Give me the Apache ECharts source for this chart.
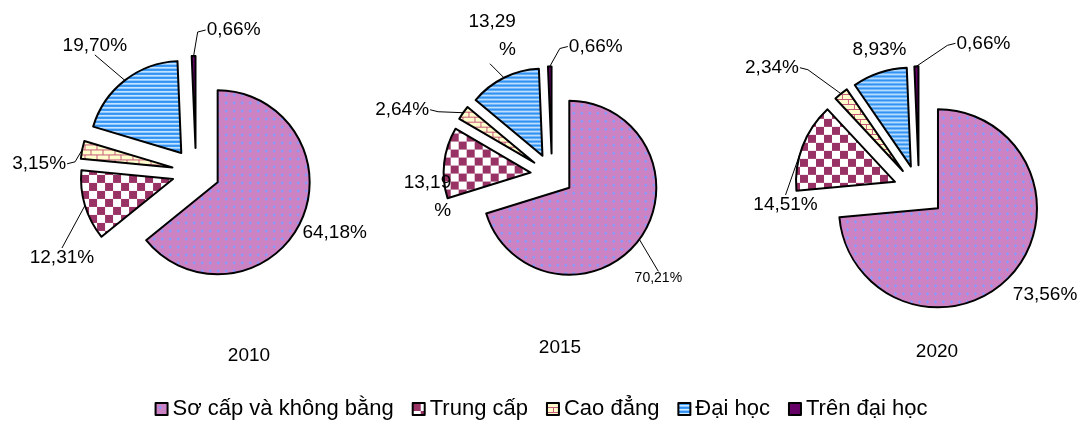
<!DOCTYPE html>
<html>
<head>
<meta charset="utf-8">
<script src="https://cdn.jsdelivr.net/npm/echarts@6/dist/echarts.min.js"></script>
<style>
  html, body { margin: 0; padding: 0; background: #fff; }
  #chart { width: 1082px; height: 431px; }
</style>
</head>
<body>
<div id="chart"></div>
<script>
// categories + values (%)
const categories = ["Sơ cấp và không bằng", "Trung cấp", "Cao đẳng", "Đại học", "Trên đại học"];
const years = ["2010", "2015", "2020"];
const v2010 = [64.18, 12.31, 3.15, 19.70, 0.66];
const v2015 = [70.21, 13.19, 2.64, 13.29, 0.66];
const v2020 = [73.56, 14.51, 2.34, 8.93, 0.66];

// ---- pattern fills ----
function makeTile(w, h, draw) {
  let c = document.createElement("canvas");
  c.width = w;
  c.height = h;
  draw(c.getContext("2d"));
  return { image: c, repeat: "repeat" };
}

const patSoCap = makeTile(8, 8, (g) => {
  for (let y = 0; y < 8; ++y) {
    for (let x = 0; x < 8; ++x) {
      g.fillStyle = (x + y) % 2 ? "#f07cb0" : "#a98ad8";
      g.fillRect(x, y, 1, 1);
    }
  }
  g.fillStyle = "#8c9cff";
  g.fillRect(3, 4, 3, 1);
  g.fillRect(4, 3, 1, 3);
});

const patTrungCap = makeTile(16, 16, (g) => {
  g.fillStyle = "#ffffff";
  g.fillRect(0, 0, 16, 16);
  g.fillStyle = "#993366";
  g.fillRect(0, 0, 8, 8);
  g.fillRect(8, 8, 8, 8);
});

const patCaoDang = makeTile(12, 10, (g) => {
  g.fillStyle = "#ffffcc";
  g.fillRect(0, 0, 12, 10);
  g.fillStyle = "#c85a7c";
  g.fillRect(0, 4, 12, 1);
  g.fillRect(0, 9, 12, 1);
  g.fillRect(0, 0, 1, 4);
  g.fillRect(6, 5, 1, 4);
});

const patDaiHoc = makeTile(4, 4, (g) => {
  const rows = ["#2f8ff0", "#3d9cf5", "#cfe7ff", "#8cc6ff"];
  rows.forEach((c, i) => {
    g.fillStyle = c;
    g.fillRect(0, i, 4, 1);
  });
});

const fills = [patSoCap, patTrungCap, patCaoDang, patDaiHoc, "#660066"];

const fmt = (v) => v.toFixed(2).replace(".", ",") + "%";

// where each label sits, relative to the slice's outer edge point: [dx, dy, draw leader line?]
const lab2010 = [[34, 11, 0], [-23, 52, 1], [-43, 14, 1], [-30, -35, 1], [40, -26, 1]];
const lab2015 = [[19, 39, 1], [-19, 34, 0], [-61, -3, 1], [-14, -42, 1], [46, -20, 1]];
const lab2020 = [[34, 20, 0], [-17, 58, 1], [-69, -26, 1], [0, -23, 0], [67, -23, 1]];

// outer edge point of each exploded slice + its explode shift
// (same geometry as the pie: start at 12 o'clock, clockwise)
function sliceGeom(values, center, radius, offset) {
  let total = values.reduce((a, b) => a + b, 0);
  let acc = 0;
  return values.map((v) => {
    let mid = ((acc + v / 2) / total) * 2 * Math.PI;
    acc += v;
    let ux = Math.sin(mid), uy = -Math.cos(mid);
    let rr = radius + offset;
    return { edge: [center[0] + rr * ux, center[1] + rr * uy], shift: [offset * ux, offset * uy] };
  });
}

function placeLabel(spec, geom) {
  return (p) => {
    let s = spec[p.dataIndex];
    let g = geom[p.dataIndex];
    let p0 = g.edge;
    let r = p.labelRect;
    let w = r.width, h = r.height;
    let lx = p0[0] + s[0], ly = p0[1] + s[1];
    let pts = [p0, p0];
    if (s[2]) {
      if (Math.abs(s[0]) > w / 2) {
        let side = s[0] > 0 ? -1 : 1;
        let end = [lx + side * (w / 2 + 1), ly];
        pts = [p0, [end[0] + side * 8, end[1] + (s[1] > 0 ? -2 : 2)], end];
      } else {
        let end = [lx, ly + (s[1] > 0 ? -h / 2 : h / 2)];
        pts = [p0, end];
      }
    }
    // label + leader line both live in the slice's (shifted) frame
    pts = pts.map((q) => [q[0] - g.shift[0], q[1] - g.shift[1]]);
    return {
      dx: lx - g.shift[0] - (r.x + w / 2),
      dy: ly - g.shift[1] - (r.y + h / 2),
      labelLinePoints: pts,
    };
  };
}

function makeSeries(name, values, center, radius, offset, spec, extraLabel) {
  return {
    name: name,
    type: "pie",
    center: center,
    radius: radius,
    startAngle: 90,
    clockwise: true,
    selectedMode: "multiple",
    selectedOffset: offset,
    avoidLabelOverlap: false,
    animation: false,
    itemStyle: { borderColor: "#000", borderWidth: 2 },
    emphasis: { disabled: true },
    label: {
      show: true,
      color: "#000",
      fontSize: 19,
      overflow: "none",
      fontFamily: "Liberation Sans, Arial, sans-serif",
      formatter: (p) => fmt(p.value),
    },
    labelLine: { show: true, length: 14, length2: 8, lineStyle: { color: "#000", width: 1 } },
    labelLayout: placeLabel(spec, sliceGeom(values, center, radius, offset)),
    data: values.map((v, i) => {
      let d = {
        name: categories[i],
        value: v,
        selected: true,
        itemStyle: { color: fills[i] },
      };
      if (extraLabel && extraLabel[i]) d.label = extraLabel[i];
      return d;
    }),
  };
}

const chart = echarts.init(document.getElementById("chart"));

const option = {
  backgroundColor: "#fff",
  title: [
    { text: years[0], left: 249, top: 346, textAlign: "center" },
    { text: years[1], left: 560, top: 338, textAlign: "center" },
    { text: years[2], left: 937, top: 342, textAlign: "center" },
  ].map((t) => Object.assign(t, {
    padding: 0,
    textStyle: { fontSize: 19, fontWeight: "normal", color: "#000", fontFamily: "Liberation Sans, Arial, sans-serif" },
  })),
  legend: {
    data: categories,
    bottom: 6,
    left: "center",
    icon: "rect",
    itemWidth: 12,
    itemHeight: 12,
    itemGap: 18,
    selectedMode: false,
    textStyle: { fontSize: 22, color: "#000", fontFamily: "Liberation Sans, Arial, sans-serif" },
  },
  series: [
    makeSeries(years[0], v2010, [196, 172], 92, 24, lab2010),
    makeSeries(years[1], v2015, [552, 175], 87, 21.5, lab2015, {
      0: { fontSize: 14 },
      1: { width: 52, overflow: "breakAll", align: "center", lineHeight: 28 },
      3: { width: 52, overflow: "breakAll", align: "center", lineHeight: 28 },
    }),
    makeSeries(years[2], v2020, [919, 191], 99, 25.7, lab2020),
  ],
};

chart.setOption(option);
</script>
</body>
</html>
